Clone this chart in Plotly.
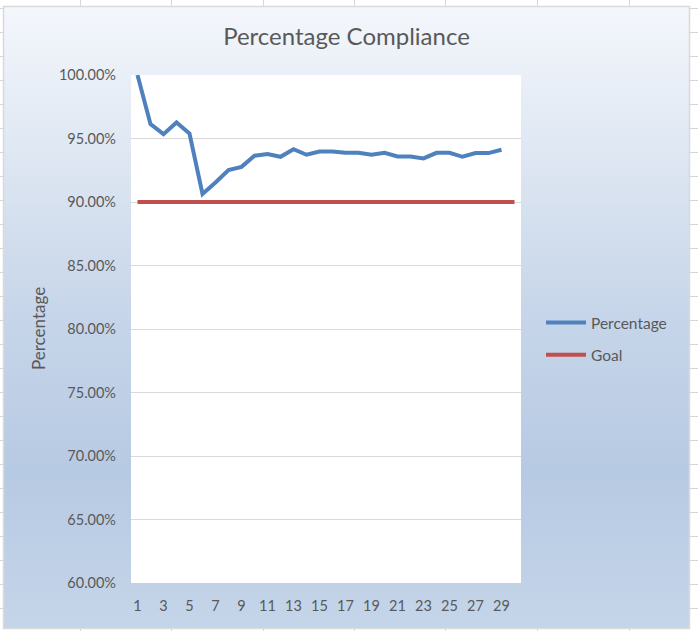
import base64
import plotly.graph_objects as go

# ---------------- data ----------------
categories = list(range(1, 31))
percentage = [1.0000, 0.9613, 0.9534, 0.9626, 0.9539, 0.9063, 0.9154, 0.9251,
              0.9277, 0.9364, 0.9377, 0.9356, 0.9416, 0.9372, 0.9398, 0.9398,
              0.9387, 0.9387, 0.9372, 0.9387, 0.9359, 0.9359, 0.9343, 0.9387,
              0.9387, 0.9356, 0.9385, 0.9385, 0.9411]
goal = [0.90, 0.90, 0.90, 0.90, 0.90, 0.90, 0.90, 0.90, 0.90, 0.90,
        0.90, 0.90, 0.90, 0.90, 0.90, 0.90, 0.90, 0.90, 0.90, 0.90,
        0.90, 0.90, 0.90, 0.90, 0.90, 0.90, 0.90, 0.90, 0.90, 0.90]
x_tick_values = [1, 3, 5, 7, 9, 11, 13, 15, 17, 19, 21, 23, 25, 27, 29]
x_tick_labels = ["1", "3", "5", "7", "9", "11", "13", "15", "17", "19",
                 "21", "23", "25", "27", "29"]
y_tick_values = [0.60, 0.65, 0.70, 0.75, 0.80, 0.85, 0.90, 0.95, 1.00]

# ---------------- layout geometry ----------------
W, H = 698, 631
L, R, T, B = 131, 177, 75, 48
PW, PH = W - L - R, H - T - B
FONT = "Lato"
GREY = "#595959"

# background: spreadsheet grid + chart box gradient (decoration only)
lines = []
for xv in [80, 171, 263, 354, 445, 537, 629]:
    lines.append(f'<line x1="{xv}.5" y1="0" x2="{xv}.5" y2="{H}" stroke="#D6D6D6" stroke-width="1"/>')
yv = 8
while yv < H:
    lines.append(f'<line x1="0" y1="{yv}.5" x2="{W}" y2="{yv}.5" stroke="#D6D6D6" stroke-width="1"/>')
    yv += 24
svg = (
    f'<svg xmlns="http://www.w3.org/2000/svg" width="{W}" height="{H}" '
    f'viewBox="0 0 {W} {H}" preserveAspectRatio="none">'
    f'<rect x="0" y="0" width="{W}" height="{H}" fill="#FFFFFF"/>'
    + "".join(lines) +
    '<defs><linearGradient id="g" x1="0" y1="0" x2="0" y2="1">'
    '<stop offset="0" stop-color="#F4F7FC"/>'
    '<stop offset="0.25" stop-color="#DDE6F2"/>'
    '<stop offset="0.5" stop-color="#C6D5E9"/>'
    '<stop offset="0.75" stop-color="#B7CAE3"/>'
    '<stop offset="1" stop-color="#C5D5E9"/>'
    '</linearGradient></defs>'
    '<rect x="3.5" y="6.5" width="686" height="622" fill="url(#g)" '
    'stroke="#D9D9D9" stroke-width="1.5"/>'
    '</svg>'
)
src = "data:image/svg+xml;base64," + base64.b64encode(svg.encode()).decode()

fig = go.Figure()
fig.add_trace(go.Scatter(
    x=categories[:len(percentage)], y=percentage, name="Percentage",
    mode="lines", line=dict(color="#4F81BD", width=4), legendgroup="a",
))
fig.add_trace(go.Scatter(
    x=categories, y=goal, name="Goal",
    mode="lines", line=dict(color="#C0504D", width=4), legendgroup="b",
))

fig.update_layout(
    width=W, height=H,
    margin=dict(l=L, r=R, t=T, b=B, autoexpand=False),
    paper_bgcolor="#FFFFFF",
    plot_bgcolor="rgba(0,0,0,0)",
    font=dict(family=FONT, color=GREY, size=15),
    title=dict(text="Percentage Compliance", x=346.5 / W, xref="container",
               xanchor="center", y=1 - 37 / H, yref="container", yanchor="middle",
               font=dict(size=24, color=GREY, family=FONT)),
    showlegend=True,
    legend=dict(x=(541 - L) / PW, xanchor="left", y=(H - B - 339) / PH, yanchor="middle",
                bgcolor="rgba(0,0,0,0)", font=dict(size=15.5, color=GREY),
                tracegroupgap=9, itemwidth=40),
    images=[dict(source=src, xref="paper", yref="paper",
                 x=-L / PW, y=1 + T / PH, sizex=W / PW, sizey=H / PH,
                 xanchor="left", yanchor="top", sizing="stretch", layer="below")],
    shapes=[dict(type="rect", xref="paper", yref="paper", x0=0, x1=1, y0=0, y1=1,
                 fillcolor="#FFFFFF", line=dict(width=0), layer="below")],
    annotations=[dict(text="Percentage", textangle=-90, xref="paper", yref="paper",
                      x=(38 - L) / PW, y=0.5, xanchor="center", yanchor="middle",
                      showarrow=False, font=dict(size=17, color=GREY, family=FONT))],
)
fig.update_xaxes(range=[0.5, 30.5], tickvals=x_tick_values, ticktext=x_tick_labels,
                 showgrid=False, zeroline=False, showline=False, ticks="",
                 ticklabelstandoff=12, tickfont=dict(size=14.5, color=GREY))
fig.update_yaxes(range=[0.6, 1.0], tickvals=y_tick_values, tickformat=".2%",
                 showgrid=True, gridcolor="#D9D9D9", gridwidth=1, zeroline=False,
                 showline=False, ticks="", ticklabelstandoff=14,
                 tickfont=dict(size=14.5, color=GREY))

fig.write_html(
    "out.html",
    config={"displayModeBar": False},
    post_script="document.body.style.margin='0';document.body.style.overflow='hidden';",
)
